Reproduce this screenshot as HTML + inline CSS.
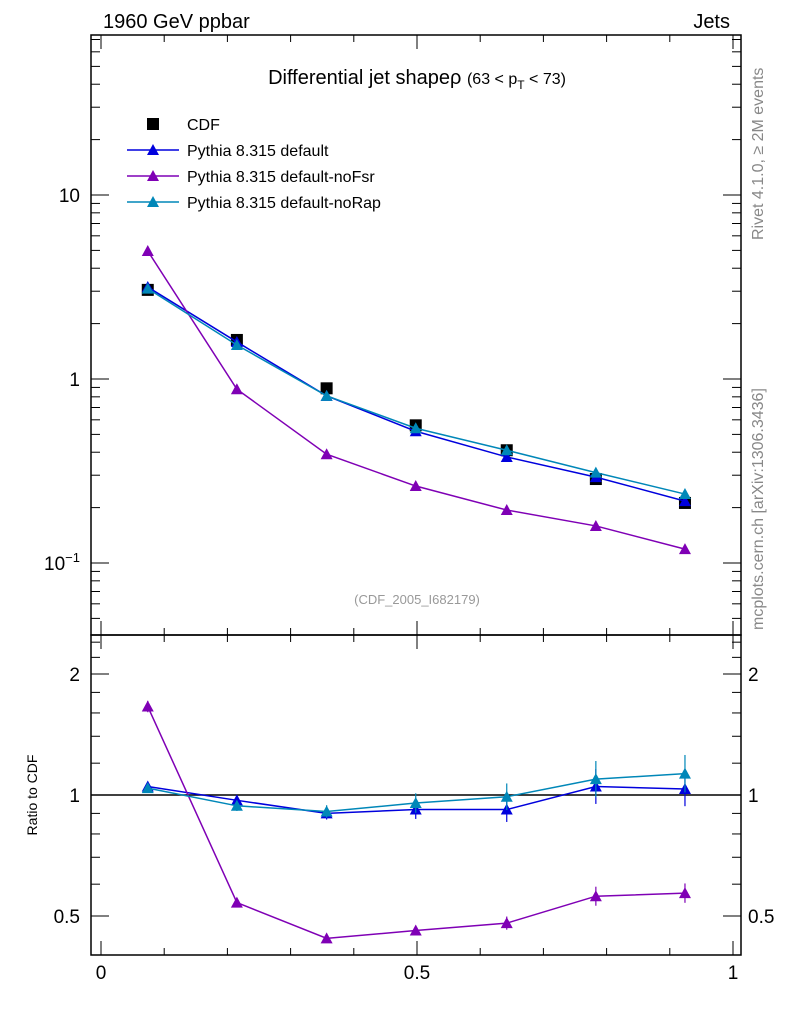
<!DOCTYPE html>
<html><head><meta charset="utf-8"><style>
body{margin:0;background:#fff;}
svg text{font-family:"Liberation Sans",sans-serif;}
</style></head><body>
<svg id="c" width="786" height="1024" xmlns="http://www.w3.org/2000/svg">
<text x="103" y="28" font-size="20">1960 GeV ppbar</text>
<text x="730" y="28" font-size="20" text-anchor="end">Jets</text>
<text x="417" y="84" font-size="20" text-anchor="middle">Differential jet shapeρ <tspan font-size="16">(63 &lt; p</tspan><tspan font-size="12" dy="5">T</tspan><tspan font-size="16" dy="-5"> &lt; 73)</tspan></text>
<text x="417" y="604" font-size="13" fill="#999" text-anchor="middle">(CDF_2005_I682179)</text>
<text transform="translate(763,240) rotate(-90)" font-size="16" fill="#888">Rivet 4.1.0, ≥ 2M events</text>
<text transform="translate(763,630) rotate(-90)" font-size="16" fill="#888">mcplots.cern.ch [arXiv:1306.3436]</text>
<text transform="translate(37,795) rotate(-90)" font-size="14" text-anchor="middle">Ratio to CDF</text>
<g id="g"></g>
</svg>
<script>
const xs=[0.074,0.215,0.357,0.498,0.642,0.783,0.924];
const cdf=[3.05,1.63,0.89,0.56,0.41,0.286,0.212];
const pyDef=[3.16,1.59,0.81,0.52,0.377,0.293,0.217];
const pyNoFsr=[4.96,0.88,0.39,0.262,0.194,0.159,0.119];
const pyNoRap=[3.1,1.53,0.81,0.54,0.41,0.31,0.237];
const rDef=[1.05,0.97,0.90,0.92,0.92,1.05,1.035];
const rNoFsr=[1.66,0.54,0.44,0.46,0.48,0.56,0.57];
const rNoRap=[1.04,0.94,0.91,0.955,0.99,1.095,1.13];
const rErr=[0.005,0.008,0.01,0.015,0.02,0.025,0.025];
const xTicks=[0,0.5,1];
const yTicks=[0.1,1,10];
const rTicks=[0.5,1,2];
const NS="http://www.w3.org/2000/svg";
const g=document.getElementById('g');
const X=v=>101+632*v;
const Y=v=>379-184*Math.log10(v);
const R=v=>795-121*Math.log2(v);
const L=91,Rt=741,T1=35,B1=635,B2=955;
function el(t,a,p){const e=document.createElementNS(NS,t);for(const k in a)e.setAttribute(k,a[k]);(p||g).appendChild(e);return e;}
function ln(x1,y1,x2,y2,c,w){return el('line',{x1,y1,x2,y2,stroke:c||'#000','stroke-width':w||1});}
let f=el('rect',{x:L,y:T1,width:Rt-L,height:B1-T1,fill:'none',stroke:'#000','stroke-width':1.5});

f=el('rect',{x:L,y:B1,width:Rt-L,height:B2-B1,fill:'none',stroke:'#000','stroke-width':1.5});

for(let i=0;i<=10;i++){const v=i/10,x=X(v),big=i%5==0,h=big?14:7;
 ln(x,B1,x,B1-h);ln(x,T1,x,T1+h);ln(x,B2,x,B2-h);ln(x,B1,x,B1+h);}
for(const v of xTicks){const t=el('text',{x:X(v),y:979,'font-size':19,'text-anchor':'middle'});t.textContent=String(v);
 }
for(let d=-2;d<=1;d++)for(let m=1;m<10;m++){const v=m*Math.pow(10,d),y=Y(v);if(y<T1||y>B1)continue;const h=m==1?18:9;ln(L,y,L+h,y);ln(Rt,y,Rt-h,y);}
for(const v of yTicks){const t=el('text',{x:80,y:Y(v)+7,'font-size':19,'text-anchor':'end'});
 if(v==0.1){t.textContent='10';const s=el('tspan',{dy:-8,'font-size':13},t);s.textContent='−1';}else t.textContent=String(v);
 }
for(const v of [0.5,0.6,0.7,0.8,0.9,1,1.2,1.4,1.6,1.8,2,2.2,2.4]){const y=R(v);const big=rTicks.includes(v),h=big?18:9;ln(L,y,L+h,y);ln(Rt,y,Rt-h,y);}
for(const v of rTicks){for(const [x,a] of [[80,'end'],[748,'start']]){const t=el('text',{x,y:R(v)+7,'font-size':19,'text-anchor':a});t.textContent=String(v);
 }}
ln(L,R(1),Rt,R(1),'#000',1.5);
function tri(x,y,c){return el('polygon',{points:`${x},${y-6} ${x-6},${y+5} ${x+6},${y+5}`,fill:c});}
function series(xv,yv,fy,c,name,err){const pts=xv.map((v,i)=>X(v)+','+fy(yv[i])).join(' ');
 const p=el('polyline',{points:pts,fill:'none',stroke:c,'stroke-width':1.5});
 xv.forEach((v,i)=>{if(err){const e=err[i]*yv[i];ln(X(v),fy(yv[i]*(1+e*4)),X(v),fy(yv[i]/(1+e*4)),c,1.2);}
  const m=tri(X(v),fy(yv[i]),c);});}
const cD='#0000dd',cF='#7f00b5',cR='#0087b8';
xs.forEach((v,i)=>{const m=el('rect',{x:X(v)-6,y:Y(cdf[i])-6,width:12,height:12,fill:'#000'});});
series(xs,pyDef,Y,cD,'pythia-default');
series(xs,pyNoFsr,Y,cF,'pythia-nofsr');
series(xs,pyNoRap,Y,cR,'pythia-norap');
series(xs,rDef,R,cD,'ratio-default',rErr);
series(xs,rNoFsr,R,cF,'ratio-nofsr',rErr);
series(xs,rNoRap,R,cR,'ratio-norap',rErr);
const leg=[['CDF','#000',1],['Pythia 8.315 default',cD],['Pythia 8.315 default-noFsr',cF],['Pythia 8.315 default-noRap',cR]];
leg.forEach((l,i)=>{const y=124+26*i;let m;
 if(l[2])m=el('rect',{x:147,y:y-6,width:12,height:12,fill:'#000'});
 else{ln(127,y,179,y,l[1],1.5);m=tri(153,y,l[1]);}
 
 const t=el('text',{x:187,y:y+6,'font-size':16});t.textContent=l[0];
 });
</script>
</body></html>
